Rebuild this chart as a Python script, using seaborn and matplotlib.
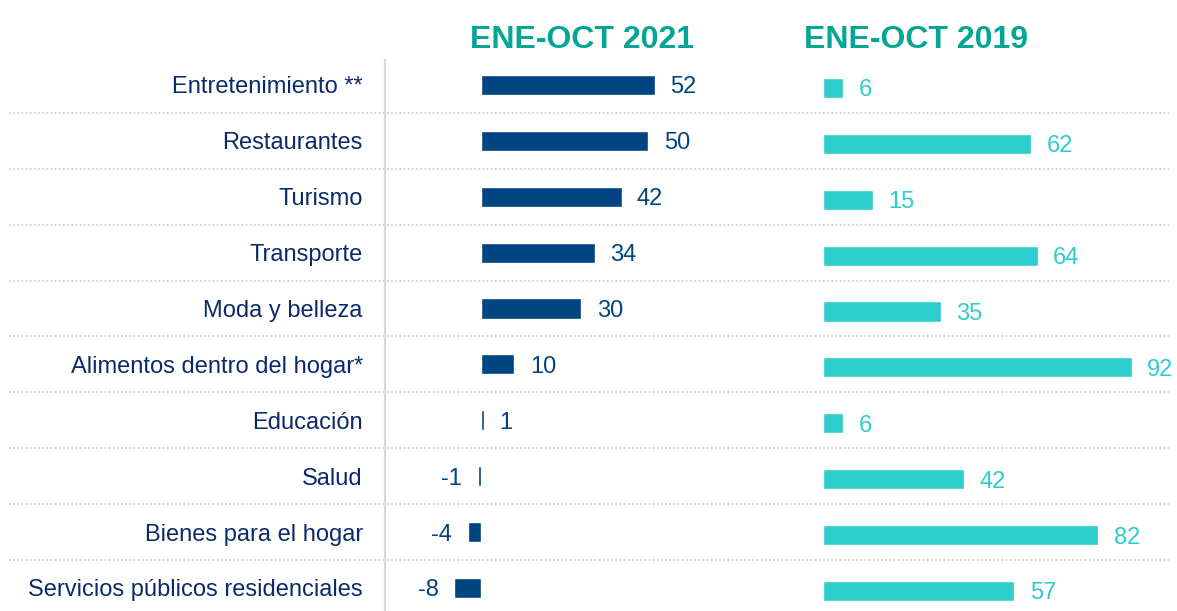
import matplotlib
matplotlib.use("Agg")
import matplotlib.pyplot as plt
import matplotlib.transforms as mtransforms
import seaborn as sns

# --- DATA ---
categorias = ["Entretenimiento **", "Restaurantes", "Turismo", "Transporte",
              "Moda y belleza", "Alimentos dentro del hogar*", "Educación",
              "Salud", "Bienes para el hogar", "Servicios públicos residenciales"]
var_2021 = [52, 50, 42, 34, 30, 10, 1, -1, -4, -8]
var_2019 = [6, 62, 15, 64, 35, 92, 6, 42, 82, 57]
titulos = ["ENE-OCT 2021", "ENE-OCT 2019"]

AZUL = "#004481"
AQUA = "#2DCCCD"
TEAL = "#05A596"
TEXTO = "#0B2A6B"

sns.set_theme(style="white")
plt.rcParams["font.family"] = ["Liberation Sans", "DejaVu Sans"]

W, H = 1177, 611
fig = plt.figure(figsize=(W / 100, H / 100), dpi=100)


def px_axes(x0, x1, y0, y1):
    return fig.add_axes([x0 / W, 1 - y1 / H, (x1 - x0) / W, (y1 - y0) / H])


ax1 = px_axes(385, 760, 60, 612)
ax2 = px_axes(760, 1177, 63, 615)

sns.barplot(x=var_2021, y=categorias, color=AZUL, saturation=1, width=0.36,
            orient="h", ax=ax1)
sns.barplot(x=var_2019, y=categorias, color=AQUA, saturation=1, width=0.36,
            orient="h", ax=ax2)

for ax, col in ((ax1, AZUL), (ax2, AQUA)):
    for t in ax.bar_label(ax.containers[0], padding=11, fontsize=17, color=col):
        t.set_va("center_baseline")

ax1.set_xlim(-28.66, 83.3)
ax2.set_xlim(-18.75, 105.4)
for ax in (ax1, ax2):
    ax.set_ylim(9.43, -0.447)
    ax.set_xlabel("")
    ax.set_ylabel("")
    ax.set_xticks([])
    for s in ax.spines.values():
        s.set_visible(False)
    ax.patch.set_alpha(0)

ax1.spines["left"].set_visible(True)
ax1.spines["left"].set_color("#d9d9d9")
ax1.spines["left"].set_linewidth(1.6)
ax1.tick_params(axis="y", length=0, pad=16, labelsize=17, labelcolor=TEXTO)
ax2.set_yticks([])

# dotted separators across the full width
trans = mtransforms.blended_transform_factory(fig.transFigure, ax1.transData)
for i in range(len(categorias) - 1):
    ax1.plot([0.008, 0.993], [i + 0.5, i + 0.5], transform=trans, clip_on=False,
             color="#cfcfcf", linewidth=1.3, linestyle=(0, (1, 1.3)), zorder=0)

fig.text(582 / W, 1 - 40 / H, titulos[0], ha="center", va="center",
         fontsize=23, fontweight="bold", color=TEAL)
fig.text(916 / W, 1 - 40 / H, titulos[1], ha="center", va="center",
         fontsize=23, fontweight="bold", color=TEAL)

fig.savefig("out.png", dpi=100)
